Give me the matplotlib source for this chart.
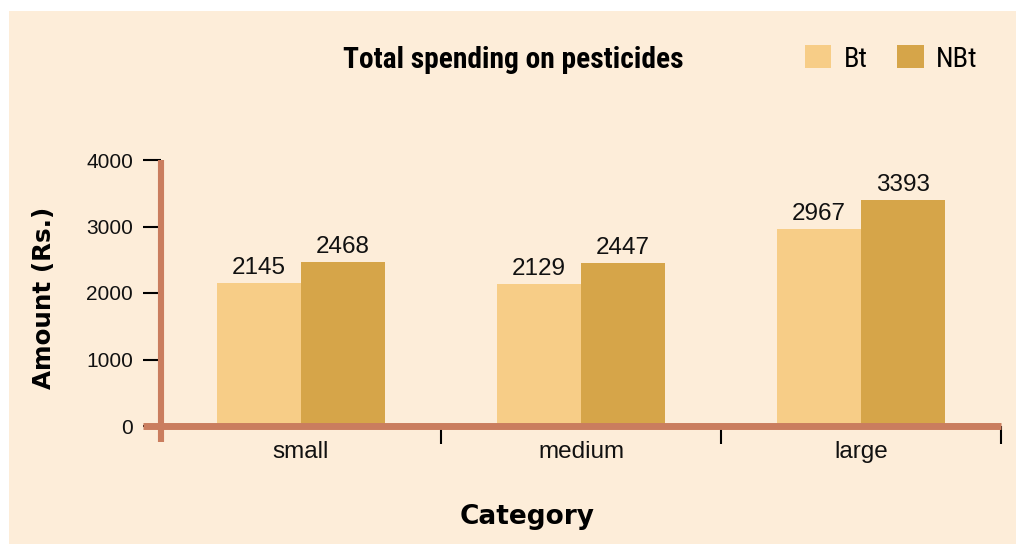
import matplotlib
matplotlib.use("Agg")
import matplotlib.pyplot as plt
from matplotlib import font_manager
from matplotlib.patches import Rectangle, Patch
import numpy as np

categories = ["small", "medium", "large"]
bt_values = [2145, 2129, 2967]
nbt_values = [2468, 2447, 3393]
series_names = ["Bt", "NBt"]
y_ticks = [0, 1000, 2000, 3000, 4000]

BG = "#FDEDD9"
BT_C = "#F7CD87"
NBT_C = "#D6A549"
SPINE_C = "#CA7D5E"

names = {f.name for f in font_manager.fontManager.ttflist}
narrow = next((n for n in ["Liberation Sans Narrow", "Roboto Condensed", "Archivo Narrow",
                           "Fira Sans Condensed", "Encode Sans Condensed", "Liberation Sans"]
               if n in names), "DejaVu Sans")
narrow_bold = next((n for n in ["Liberation Sans Narrow", "Roboto Condensed", "Fira Sans Condensed",
                                "Encode Sans Condensed", "Liberation Sans"]
                    if n in names), "DejaVu Sans")

W, H = 1016, 544
fig = plt.figure(figsize=(W / 100, H / 100), dpi=100)
fig.patch.set_facecolor("white")
fig.patches.append(Rectangle((9 / W, 0), 1 - 9 / W, 1 - 11 / H, transform=fig.transFigure,
                             facecolor=BG, edgecolor="none", zorder=-10))

ax_l, ax_r, ax_b, ax_t = 161, 1001, 426, 160
ax = fig.add_axes([ax_l / W, 1 - ax_b / H, (ax_r - ax_l) / W, (ax_b - ax_t) / H])
ax.set_facecolor("none")

x = np.arange(len(categories))
w = 0.3
b1 = ax.bar(x - w / 2, bt_values, w, color=BT_C, label=series_names[0], zorder=2)
b2 = ax.bar(x + w / 2, nbt_values, w, color=NBT_C, label=series_names[1], zorder=2)

for bars, vals in ((b1, bt_values), (b2, nbt_values)):
    for rect, v in zip(bars, vals):
        ax.annotate(f"{v}", (rect.get_x() + rect.get_width() / 2, v),
                    xytext=(0, 3), textcoords="offset points", ha="center", va="bottom",
                    fontsize=17.5, family="Liberation Sans", color="#111111")

ax.set_xlim(-0.5, len(categories) - 0.5)
ax.set_ylim(0, 4000)
ax.set_yticks(y_ticks)
ax.set_yticklabels([str(t) for t in y_ticks], family="Liberation Sans", fontsize=15, color="#111111")
ax.tick_params(axis="y", length=13, width=1.5, color="black", pad=7, direction="out")

ax.set_xticks(x)
ax.set_xticklabels(categories, family="Liberation Sans", fontsize=17.5, color="#111111")
ax.tick_params(axis="x", which="major", length=0, pad=11)
ax.set_xticks(np.arange(len(categories)) + 0.5, minor=True)
ax.tick_params(axis="x", which="minor", length=13, width=1.5, color="black", direction="out")

for s in ax.spines.values():
    s.set_visible(False)

ax.plot([0, 0], [1, (ax_b - 442) / (ax_b - ax_t)], transform=ax.transAxes, color=SPINE_C,
        lw=4.4, solid_capstyle="butt", clip_on=False, zorder=3)
ax.plot([(143 - ax_l) / (ax_r - ax_l), 1], [0, 0], transform=ax.transAxes, color=SPINE_C,
        lw=5, solid_capstyle="butt", clip_on=False, zorder=3)

title = fig.text(513 / W, 1 - 60 / H, "Total spending on pesticides", ha="center", va="center",
                 family=narrow_bold, fontweight="bold", fontsize=21)
fig.canvas.draw()
tw = title.get_window_extent().width
if tw > 0:
    title.set_fontsize(min(26, 21 * 341 / tw))

fig.text(44 / W, 1 - 298 / H, "Amount (Rs.)", ha="center", va="center", rotation=90,
         family="DejaVu Sans", fontweight="bold", fontsize=17.7)
fig.text(527 / W, 1 - 517 / H, "Category", ha="center", va="center",
         family="DejaVu Sans", fontweight="bold", fontsize=19)

handles = [Patch(facecolor=BT_C, edgecolor="none"), Patch(facecolor=NBT_C, edgecolor="none")]
fig.legend(handles, series_names, loc="center left", bbox_to_anchor=(805 / W, 1 - 59 / H),
           ncol=2, frameon=False, prop={"family": narrow, "size": 20.5},
           handlelength=0.93, handleheight=0.85, handletextpad=0.42, columnspacing=1.05,
           borderpad=0, borderaxespad=0)

fig.savefig("out.png", dpi=100, facecolor=fig.get_facecolor())
